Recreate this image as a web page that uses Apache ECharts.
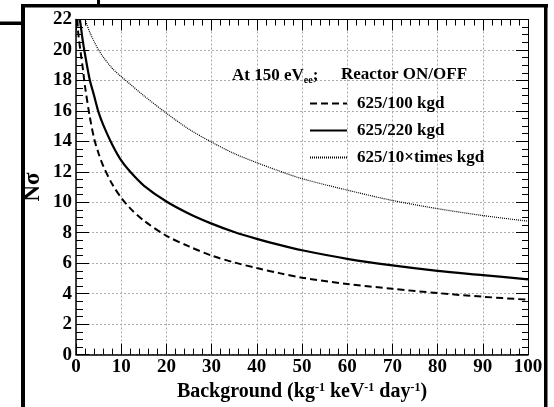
<!DOCTYPE html>
<html>
<head>
<meta charset="utf-8">
<script src="https://cdn.jsdelivr.net/npm/echarts@6/dist/echarts.min.js"></script>
<style>
html,body{margin:0;padding:0;background:#fff}
#c{width:554px;height:407px}
</style>
</head>
<body>
<div id="c"></div>
<script>
// Background rate (kg^-1 keV^-1 day^-1) and significance N-sigma for each exposure set
const bkgA = [0.3, 0.5, 1, 1.5, 2, 3, 4, 5, 6, 8, 10, 12, 15, 20, 25, 30, 35, 40, 45, 50, 60, 70, 80, 90, 100];
const nsigA = [22, 21.1, 19.9, 18.8, 17.6, 15.7, 14.2, 13.2, 12.4, 11.2, 10.3, 9.6, 8.8, 7.8, 7.1, 6.5, 6.05, 5.68, 5.35, 5.05, 4.64, 4.32, 4.04, 3.8, 3.6];

const bkgB = [0.85, 1, 1.5, 2, 3, 4, 5, 6, 8, 10, 12, 15, 20, 25, 30, 35, 40, 45, 50, 60, 70, 80, 90, 100];
const nsigB = [22, 21.7, 20.6, 19.7, 18.1, 17.0, 15.9, 15.1, 13.8, 12.75, 12.0, 11.1, 10.05, 9.25, 8.6, 8.05, 7.6, 7.2, 6.85, 6.29, 5.86, 5.5, 5.22, 4.94];

const bkgC = [2, 3, 4, 5, 6, 8, 10, 12, 15, 20, 25, 30, 35, 40, 45, 50, 60, 70, 80, 90, 100];
const nsigC = [22, 21.2, 20.55, 20.0, 19.55, 18.8, 18.25, 17.75, 17.0, 15.85, 14.8, 13.95, 13.2, 12.6, 12.05, 11.55, 10.8, 10.12, 9.58, 9.13, 8.76];

const seriesNames = ['625/100 kgd', '625/220 kgd', '625/10\u00d7times kgd'];

const FONT = '"Liberation Serif", "Times New Roman", serif';

function pairs(xs, ys) { return xs.map((x, i) => [x, ys[i]]); }

const chart = echarts.init(document.getElementById('c'), null, { renderer: 'canvas' });

const baseText = { fontFamily: FONT, fontWeight: 'bold', color: '#000' };

function tickAxis(opts) {
  return Object.assign({
    type: 'value',
    axisLine: { show: true, onZero: false, lineStyle: { color: '#000', width: 1 } },
    axisTick: { show: true, inside: true, length: 11, lineStyle: { color: '#000', width: 1 } },
    minorTick: { show: true, length: 6, lineStyle: { color: '#000', width: 1 } },
    splitLine: { show: false },
    axisLabel: { show: false }
  }, opts);
}

const option = {
  animation: false,
  backgroundColor: '#fff',
  grid: { left: 76, right: 26, top: 19.5, bottom: 46, containLabel: false },
  title: [
    {
      left: 232, top: 66, padding: 0,
      text: '{a|At 150 eV}{s|ee}{a|;}',
      textStyle: {
        rich: {
          a: Object.assign({ fontSize: 17 }, baseText),
          s: Object.assign({ fontSize: 10, padding: [9, 0, 0, 0] }, baseText)
        }
      }
    },
    {
      left: 341, top: 66, padding: 0,
      text: 'Reactor ON/OFF',
      textStyle: Object.assign({ fontSize: 17 }, baseText)
    }
  ],
  legend: {
    left: 309, top: 95, padding: 0,
    orient: 'vertical',
    itemWidth: 37, itemHeight: 14, itemGap: 10,
    data: seriesNames,
    itemStyle: { opacity: 0 },
    textStyle: Object.assign({ fontSize: 17, padding: [0, 0, 0, 5] }, baseText),
    selectedMode: false
  },
  xAxis: [
    tickAxis({
      min: 0, max: 100, interval: 10, position: 'bottom',
      axisLine: { show: true, onZero: false, lineStyle: { color: '#000', width: 1.5 } },
      minorTick: { show: true, splitNumber: 5, length: 6, lineStyle: { color: '#000', width: 1 } },
      splitLine: { show: true, lineStyle: { color: '#aaa', width: 1, type: [2, 2] } },
      axisLabel: Object.assign({ fontSize: 19, margin: 3 }, baseText),
      name: 'Background (kg{sup|-1} keV{sup|-1} day{sup|-1})',
      nameLocation: 'middle', nameGap: 20,
      nameTextStyle: Object.assign({
        fontSize: 20,
        rich: { sup: Object.assign({ fontSize: 12, padding: [0, 0, 9, 0] }, baseText) }
      }, baseText)
    }),
    tickAxis({
      min: 0, max: 100, interval: 10, position: 'top',
      minorTick: { show: true, splitNumber: 5, length: 6, lineStyle: { color: '#000', width: 1 } }
    })
  ],
  yAxis: [
    tickAxis({
      min: 0, max: 22, interval: 2, position: 'left',
      axisLine: { show: true, onZero: false, lineStyle: { color: '#000', width: 1.5 } },
      axisTick: { show: true, inside: true, length: 13, lineStyle: { color: '#000', width: 1 } },
      minorTick: { show: true, splitNumber: 4, length: 7, lineStyle: { color: '#000', width: 1 } },
      splitLine: { show: true, lineStyle: { color: '#aaa', width: 1, type: [2, 2] } },
      axisLabel: Object.assign({ fontSize: 19, margin: 4 }, baseText),
      name: 'N\u03c3',
      nameLocation: 'middle', nameGap: 31, nameRotate: 90, nameMoveOverlap: false,
      nameTextStyle: Object.assign({ fontSize: 23 }, baseText)
    }),
    tickAxis({
      min: 0, max: 22, interval: 2, position: 'right',
      axisTick: { show: true, inside: true, length: 12, lineStyle: { color: '#000', width: 1 } },
      minorTick: { show: true, splitNumber: 4, length: 6, lineStyle: { color: '#000', width: 1 } }
    })
  ],
  series: [
    {
      name: seriesNames[0], type: 'line', xAxisIndex: 0, yAxisIndex: 0,
      data: pairs(bkgA, nsigA), showSymbol: false, symbol: 'none',
      smooth: 0.3,
      lineStyle: { color: '#000', width: 2, type: [7, 4] },
      itemStyle: { color: '#000' }
    },
    {
      name: seriesNames[1], type: 'line', xAxisIndex: 0, yAxisIndex: 0,
      data: pairs(bkgB, nsigB), showSymbol: false, symbol: 'none',
      smooth: 0.3,
      lineStyle: { color: '#000', width: 2.2, type: 'solid' },
      itemStyle: { color: '#000' }
    },
    {
      name: seriesNames[2], type: 'line', xAxisIndex: 0, yAxisIndex: 0,
      data: pairs(bkgC, nsigC), showSymbol: false, symbol: 'none',
      smooth: 0.3,
      lineStyle: { color: '#000', width: 1.2, type: [1, 1] },
      itemStyle: { color: '#000' }
    }
  ],
  graphic: [
    // surrounding frame strokes
    { type: 'rect', shape: { x: 21, y: 4, width: 4, height: 403 }, style: { fill: '#000' } },
    { type: 'rect', shape: { x: 21, y: 4, width: 527, height: 3.5 }, style: { fill: '#000' } },
    { type: 'rect', shape: { x: 544, y: 4, width: 3.5, height: 403 }, style: { fill: '#000' } },
    { type: 'rect', shape: { x: 0, y: 21.5, width: 23, height: 3.5 }, style: { fill: '#000' } },
    { type: 'rect', shape: { x: 97, y: 0, width: 3, height: 5 }, style: { fill: '#000' } }
  ]
};

chart.setOption(option);
</script>
</body>
</html>
